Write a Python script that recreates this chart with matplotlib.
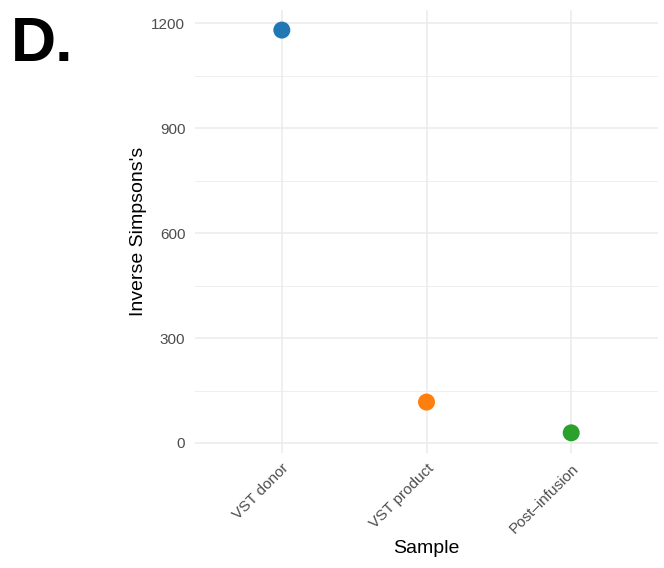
import matplotlib
matplotlib.use("Agg")
import matplotlib.pyplot as plt
from matplotlib.ticker import MultipleLocator

plt.rcParams["font.family"] = ["Liberation Sans", "DejaVu Sans"]

samples = ["VST donor", "VST product", "Post\u2013infusion"]
inv_simpson = [1181, 117, 29]
colors = ["#1F77B4", "#FF7F0E", "#2CA02C"]
y_ticks = [0, 300, 600, 900, 1200]

fig = plt.figure(figsize=(6.64, 5.68), dpi=100)
ax = fig.add_axes([0.2937, 0.2025, 0.6973, 0.78])

x = list(range(1, len(samples) + 1))
ax.scatter(x, inv_simpson, s=150, c=colors, zorder=3, linewidths=0)

ax.set_xlim(0.4, len(samples) + 0.6)
span = max(inv_simpson) - min(inv_simpson)
ax.set_ylim(min(inv_simpson) - 0.05 * span, max(inv_simpson) + 0.05 * span)

ax.set_xticks(x)
ax.set_xticklabels(samples, rotation=45, ha="right", va="top",
                   rotation_mode="anchor", fontsize=11, color="#4D4D4D")
ax.set_yticks(y_ticks)
ax.set_yticklabels([str(v) for v in y_ticks], fontsize=11, color="#4D4D4D")
ax.yaxis.set_minor_locator(MultipleLocator(150))

ax.tick_params(axis="both", which="both", length=0)
ax.tick_params(axis="x", pad=6)
ax.tick_params(axis="y", pad=7)

ax.grid(True, which="major", color="#EBEBEB", linewidth=1.1)
ax.grid(True, which="minor", axis="y", color="#EBEBEB", linewidth=0.6)
ax.set_axisbelow(True)
for sp in ax.spines.values():
    sp.set_visible(False)

ax.set_xlabel("Sample", fontsize=14, color="black", labelpad=3)
ax.set_ylabel("Inverse Simpsons's", fontsize=14, color="black", labelpad=3)

fig.text(0.017, 0.893, "D.", fontsize=45, fontweight="bold", color="black",
         ha="left", va="baseline")

fig.savefig("out.png", dpi=100)
